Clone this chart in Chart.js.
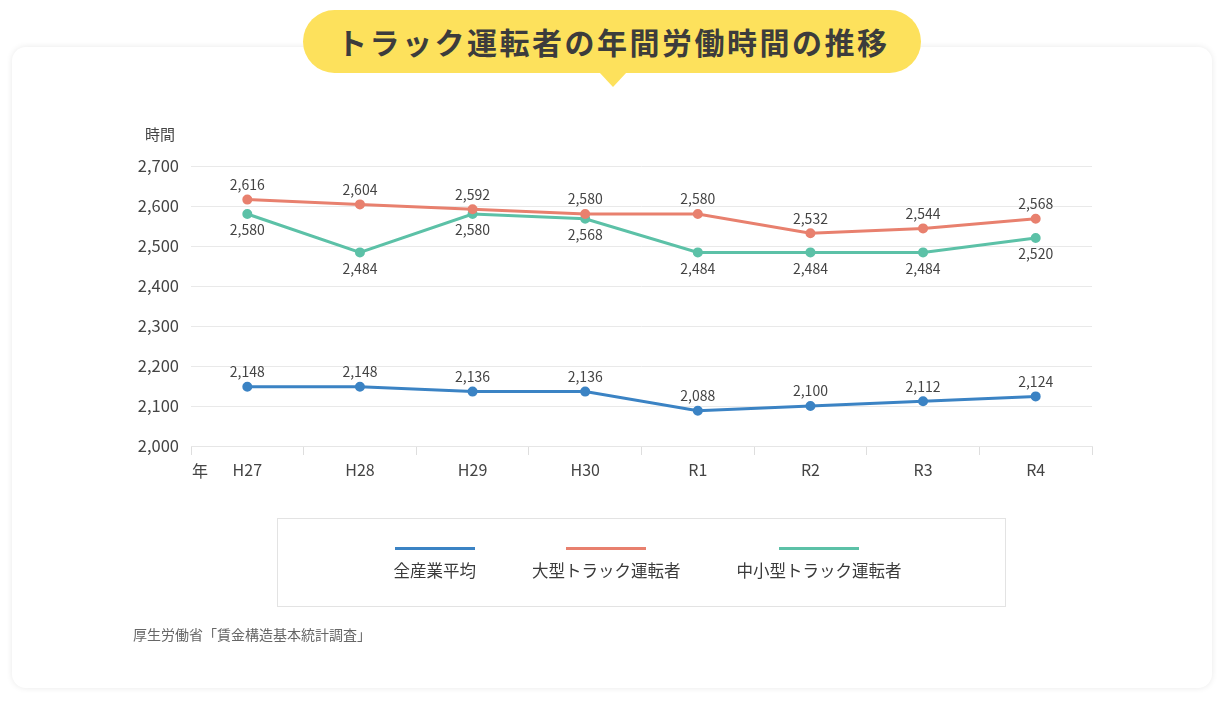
<!DOCTYPE html>
<html lang="ja">
<head>
<meta charset="utf-8">
<script src="https://cdn.jsdelivr.net/npm/chart.js@4"></script>
<style>
    html, body {
        margin: 0;
        padding: 0;
        width: 1227px;
        height: 703px;
        background: #fff;
        font-family: "Noto Sans CJK JP", "Noto Sans", sans-serif;
        overflow: hidden;
    }
    .card {
        position: absolute;
        left: 12px;
        top: 47px;
        width: 1200px;
        height: 641px;
        border-radius: 14px;
        background: #fff;
        box-shadow: 0 0 6px rgba(0, 0, 0, 0.09);
    }
    .title {
        position: absolute;
        left: 303px;
        top: 10px;
        width: 618px;
        height: 63px;
        border-radius: 32px;
        background: #fde15c;
        color: #3c3c3c;
        font-size: 30px;
        font-weight: bold;
        letter-spacing: 2.5px;
        text-indent: 2.5px;
        line-height: 63px;
        text-align: center;
        white-space: nowrap;
    }
    .title:after {
        content: "";
        position: absolute;
        left: 296px;
        top: 62px;
        border-left: 14px solid transparent;
        border-right: 14px solid transparent;
        border-top: 15px solid #fde15c;
    }
    #js-chart {
        position: absolute;
        left: 0;
        top: 0;
    }
    .unit {
        position: absolute;
        font-size: 15px;
        color: #444;
        line-height: 1;
    }
    .legend {
        position: absolute;
        left: 277px;
        top: 518px;
        width: 729px;
        height: 89px;
        border: 1px solid #e3e3e3;
        display: flex;
        justify-content: center;
        gap: 56px;
        padding-top: 28px;
        padding-left: 12px;
        box-sizing: border-box;
    }
    .legend-item {
        display: flex;
        flex-direction: column;
        align-items: center;
        min-width: 80px;
    }
    .legend-line {
        width: 80px;
        height: 3px;
    }
    .legend-text {
        margin-top: 12px;
        font-size: 16.5px;
        color: #3a3a3a;
        line-height: 1;
    }
    .source {
        position: absolute;
        left: 133px;
        top: 627px;
        font-size: 14px;
        color: #666;
        line-height: 1;
    }
</style>
</head>
<body>
<div class="card"></div>
<div class="title">トラック運転者の年間労働時間の推移</div>
<canvas id="js-chart" width="1227" height="703"></canvas>
<div class="unit" style="left:145px; top:126px;">時間</div>
<div class="unit" style="left:192px; top:462px; font-size:16px;">年</div>
<div class="legend" id="js-legend"></div>
<div class="source">厚生労働省「賃金構造基本統計調査」</div>

<script>
// Daten
const years = ['H27', 'H28', 'H29', 'H30', 'R1', 'R2', 'R3', 'R4'];
const allIndustry = [2148, 2148, 2136, 2136, 2088, 2100, 2112, 2124];
const largeTruck = [2616, 2604, 2592, 2580, 2580, 2532, 2544, 2568];
const smallTruck = [2580, 2484, 2580, 2568, 2484, 2484, 2484, 2520];
const yTicks = [2000, 2100, 2200, 2300, 2400, 2500, 2600, 2700];

const seriesNames = ['全産業平均', '大型トラック運転者', '中小型トラック運転者'];
const seriesColors = ['#3b83c4', '#e8806e', '#5cc1a7'];
const labelOffsets = [-15, -15, 16]; // Beschriftung oben / unten

const fmt = (v) => v.toLocaleString('en-US');
const fontFamily = '"Noto Sans CJK JP", "Noto Sans", sans-serif';

// Werte über bzw. unter den Punkten
const valueLabels = {
    id: 'valueLabels',
    afterDatasetsDraw(chart) {
        const ctx = chart.ctx;
        ctx.save();
        ctx.font = '14px ' + fontFamily;
        ctx.fillStyle = '#444';
        ctx.textAlign = 'center';
        ctx.textBaseline = 'middle';
        chart.data.datasets.forEach((ds, i) => {
            chart.getDatasetMeta(i).data.forEach((pt, j) => {
                ctx.fillText(fmt(ds.data[j]), pt.x, pt.y + labelOffsets[i]);
            });
        });
        ctx.restore();
    }
};

const datasets = [allIndustry, largeTruck, smallTruck].map((data, i) => ({
    label: seriesNames[i],
    data: data,
    borderColor: seriesColors[i],
    backgroundColor: seriesColors[i],
    borderWidth: 3,
    pointRadius: 3.5,
    pointHoverRadius: 3.5,
    tension: 0
}));

const ctx = document.getElementById('js-chart').getContext('2d');
new Chart(ctx, {
    type: 'line',
    data: {
        labels: years,
        datasets: datasets
    },
    options: {
        responsive: false,
        animation: false,
        layout: {
            padding: {left: 131, right: 135, top: 166, bottom: 217}
        },
        plugins: {
            legend: {display: false},
            tooltip: {enabled: false}
        },
        scales: {
            x: {
                offset: true,
                grid: {
                    offset: true,
                    drawOnChartArea: false,
                    drawTicks: true,
                    tickLength: 9,
                    color: '#dedede'
                },
                border: {color: '#e6e6e6'},
                ticks: {
                    color: '#444',
                    padding: 5,
                    font: {size: 16, family: fontFamily}
                },
                afterFit: (scale) => { scale.height = 40; }
            },
            y: {
                min: yTicks[0],
                max: yTicks[yTicks.length - 1],
                afterBuildTicks: (scale) => {
                    scale.ticks = yTicks.map((v) => ({value: v}));
                },
                grid: {
                    color: '#e9e9e9',
                    drawTicks: false
                },
                border: {display: false},
                ticks: {
                    color: '#444',
                    padding: 12,
                    font: {size: 16.5, family: fontFamily},
                    callback: (v) => fmt(v)
                },
                afterFit: (scale) => { scale.width = 60; }
            }
        }
    },
    plugins: [valueLabels]
});

// Legende
const legend = document.getElementById('js-legend');
seriesNames.forEach((name, i) => {
    legend.innerHTML += '<div class="legend-item"><div class="legend-line" style="background:' +
        seriesColors[i] + '"></div><div class="legend-text">' + name + '</div></div>';
});
</script>
</body>
</html>
